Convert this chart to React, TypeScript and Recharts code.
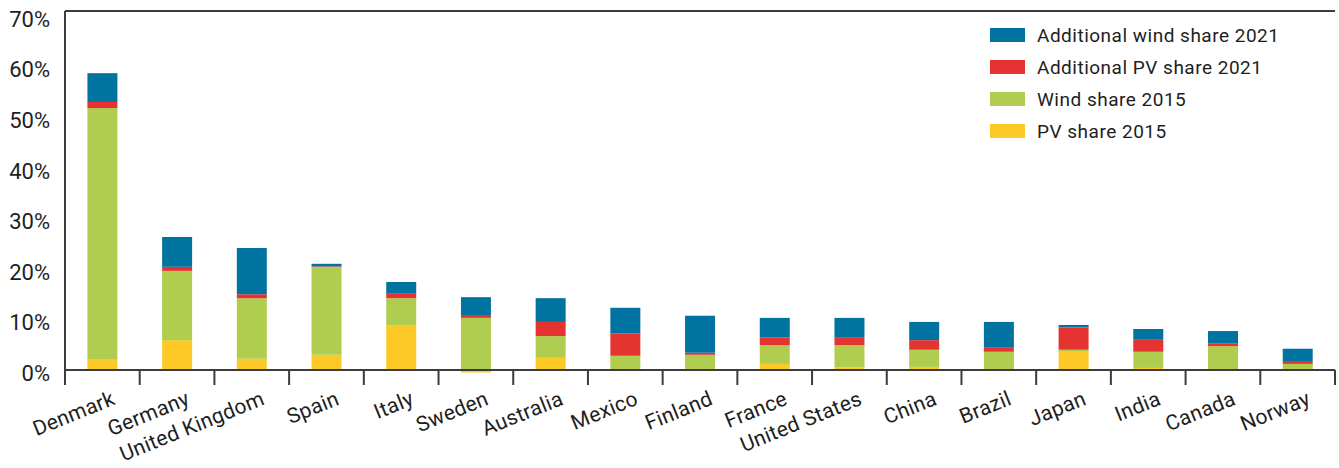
import React from 'react'
import { BarChart, Bar, XAxis, YAxis, Legend, ReferenceLine } from 'recharts'

const countries = [
  'Denmark', 'Germany', 'United Kingdom', 'Spain', 'Italy', 'Sweden', 'Australia', 'Mexico', 'Finland',
  'France', 'United States', 'China', 'Brazil', 'Japan', 'India', 'Canada', 'Norway',
]
// shares in percent
const pvShare2015 = [2.0, 5.9, 2.2, 3.0, 8.9, -0.5, 2.4, 0.1, 0, 1.2, 0.5, 0.6, 0, 3.6, 0.4, -0.2, 0]
const windShare2015 = [49.8, 13.7, 12.0, 17.4, 5.3, 10.3, 4.3, 2.7, 3.0, 3.7, 4.4, 3.4, 3.6, 0.4, 3.2, 4.7, 1.2]
const addPvShare2021 = [1.2, 0.8, 0.8, 0.1, 1.0, 0.4, 2.8, 4.4, 0.4, 1.5, 1.6, 1.9, 0.8, 4.4, 2.5, 0.5, 0.4]
const addWindShare2021 = [5.7, 5.9, 9.1, 0.5, 2.2, 3.7, 4.7, 5.1, 7.3, 3.9, 3.8, 3.6, 5.1, 0.5, 2.0, 2.5, 2.6]
const yTicks = [0, 10, 20, 30, 40, 50, 60, 70]
const yMax = 71

const legendOrder = ['Additional wind share 2021', 'Additional PV share 2021', 'Wind share 2015', 'PV share 2015']

const data = countries.map((name, i) => ({
  name,
  pv: pvShare2015[i],
  wind: windShare2015[i],
  addPv: addPvShare2021[i],
  addWind: addWindShare2021[i],
}))

const INK = '#1e1e1e'
const LINE = '#3c3c3c'

function CountryTick(props: any) {
  const { x, y, payload, index, width, visibleTicksCount } = props
  const band = (width || 1270) / (visibleTicksCount || countries.length)
  const half = band / 2
  return (
    <g>
      <line x1={x - half} x2={x - half} y1={y - 15} y2={y} stroke={LINE} strokeWidth={2} />
      {index === countries.length - 1 && (
        <line x1={x + half} x2={x + half} y1={y - 15} y2={y} stroke={LINE} strokeWidth={2} />
      )}
      <g transform={`translate(${x + 14},${y + 19})`}>
        <text x={0} y={0} transform='rotate(-22)' textAnchor='end' fill={INK} fontSize={21} letterSpacing={0.3}>
          {payload.value}
        </text>
      </g>
    </g>
  )
}

function renderLegend(props: any) {
  const payload = props.payload || []
  const items = legendOrder
    .map((name) => payload.find((p: any) => p.value === name))
    .filter(Boolean)
  return (
    <div>
      {items.map((item: any) => (
        <div key={item.value} style={{ display: 'flex', alignItems: 'center', height: 32 }}>
          <span style={{ display: 'inline-block', width: 35, height: 14, background: item.color, marginRight: 12 }} />
          <span style={{ fontSize: 19, letterSpacing: 0.5, color: INK, whiteSpace: 'nowrap' }}>{item.value}</span>
        </div>
      ))}
    </div>
  )
}

export default function App() {
  return (
    <div style={{ position: 'absolute', left: 0, top: 0, fontFamily: 'Roboto', background: '#fff' }}>
      <BarChart
        width={1339}
        height={468}
        data={data}
        stackOffset='sign'
        barCategoryGap='30%'
        margin={{ top: 11, right: 4, left: 5, bottom: 0 }}
      >
        <XAxis
          dataKey='name'
          interval={0}
          height={95}
          axisLine={false}
          tickLine={false}
          tickSize={12}
          tickMargin={0}
          tick={<CountryTick />}
        />
        <YAxis
          width={60}
          domain={[-0.6, yMax]}
          ticks={yTicks}
          allowDataOverflow
          tickFormatter={(v) => `${v}%`}
          tickLine={false}
          tickSize={0}
          tickMargin={15}
          axisLine={{ stroke: LINE, strokeWidth: 2 }}
          tick={{ fill: INK, fontSize: 22, dy: 3 }}
        />
        <YAxis yAxisId='right' orientation='right' width={0} tick={false} tickLine={false}
          axisLine={{ stroke: LINE, strokeWidth: 2 }} />
        <Legend
          layout='vertical'
          align='center'
          verticalAlign='middle'
          content={renderLegend}
          wrapperStyle={{ left: 990, top: 19, width: 340 }}
        />
        <Bar dataKey='pv' name='PV share 2015' stackId='a' fill='#FCC926' isAnimationActive={false} />
        <Bar dataKey='wind' name='Wind share 2015' stackId='a' fill='#B1CD4F' isAnimationActive={false} />
        <Bar dataKey='addPv' name='Additional PV share 2021' stackId='a' fill='#E53331' isAnimationActive={false} />
        <Bar dataKey='addWind' name='Additional wind share 2021' stackId='a' fill='#0073A0' isAnimationActive={false} />
        <ReferenceLine y={0} stroke={LINE} strokeWidth={2} />
        <ReferenceLine y={yMax} stroke={LINE} strokeWidth={2} />
      </BarChart>
    </div>
  )
}
